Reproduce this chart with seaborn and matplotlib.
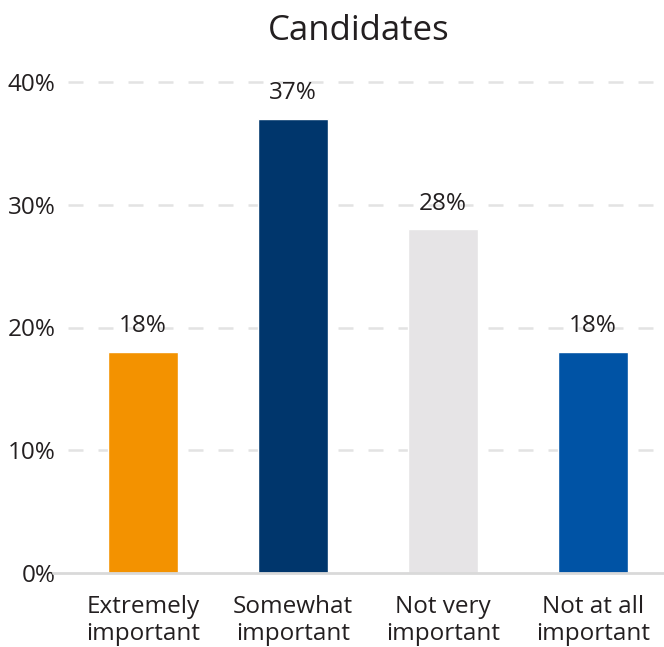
import matplotlib
matplotlib.use("Agg")
import matplotlib.pyplot as plt
import seaborn as sns
import pandas as pd

categories = ["Extremely\nimportant", "Somewhat\nimportant", "Not very\nimportant", "Not at all\nimportant"]
values = [18, 37, 28, 18]
colors = ["#F39200", "#00366C", "#E6E4E6", "#0053A5"]
yticks = [0, 10, 20, 30, 40]
ytick_labels = ["0%", "10%", "20%", "30%", "40%"]
title = "Candidates"

sns.set_theme(style="white")
plt.rcParams["font.family"] = ["Open Sans", "DejaVu Sans"]
text_color = "#231F20"

df = pd.DataFrame({"cat": categories, "val": values})

fig = plt.figure(figsize=(6.64, 6.47), dpi=100)
ax = fig.add_axes([53 / 664, 74 / 647, (664 - 53) / 664, (573 - 82) / 647])

sns.barplot(data=df, x="cat", y="val", hue="cat", palette=colors, legend=False,
            width=0.467, ax=ax, saturation=1)

ax.set_xlim(-0.6, 3.473)
ax.set_ylim(0, 40)

for y in yticks[1:]:
    ax.hlines(y, -0.5, 3.55, colors="#E3E3E3", linewidth=1.8,
              linestyles=(0, (6, 6)), zorder=0, clip_on=False)
ax.axhline(0, color="#D9D9D9", linewidth=2, zorder=3, clip_on=False)

for i, v in enumerate(values):
    ax.text(i, v + 2.1, f"{v}%", ha="center", va="center", fontsize=17.5,
            color=text_color)

ax.set_yticks(yticks)
ax.set_yticklabels(ytick_labels, fontsize=17.5, color=text_color)
ax.tick_params(axis="y", length=0, pad=-2)
ax.tick_params(axis="x", length=0, pad=16, labelsize=17.5, labelcolor=text_color)
for lab in ax.get_yticklabels():
    lab.set_horizontalalignment("right")
for lab in ax.get_xticklabels():
    lab.set_linespacing(1.15)
ax.set_xlabel("")
ax.set_ylabel("")
for s in ax.spines.values():
    s.set_visible(False)

ax.set_title(title, fontsize=25, color=text_color, pad=30)

fig.savefig("out.png", dpi=100)
